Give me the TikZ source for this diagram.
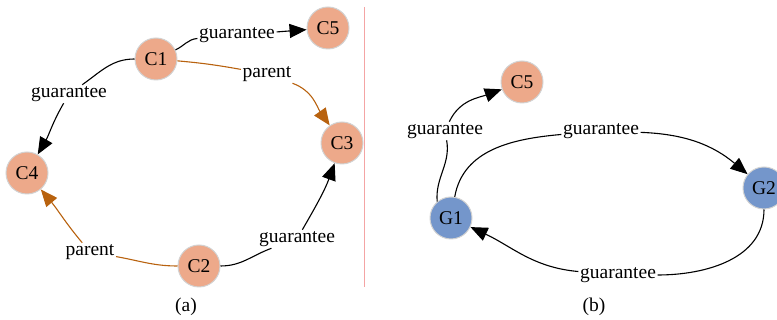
\documentclass[tikz,border=0pt]{standalone}
\usepackage{fontspec}
\setmainfont{Liberation Serif}
\usetikzlibrary{arrows.meta}
\definecolor{salmon}{HTML}{EDA98A}
\definecolor{bluegr}{HTML}{7496CB}
\definecolor{rimgray}{HTML}{D2D2D2}
\definecolor{parentc}{HTML}{B8620F}
\definecolor{sepred}{HTML}{F4A4A4}
\tikzset{
  cnode/.style={circle,fill=salmon,draw=rimgray,line width=1pt,minimum size=42pt,inner sep=0pt},
  gnode/.style={cnode,fill=bluegr},
  lbl/.style={inner sep=1.5pt},
  rel/.style={line width=1.1pt,-{Triangle[length=17pt,width=14pt]}},
  par/.style={rel,draw=parentc,-{Triangle[length=17pt,width=14pt,fill=parentc]}}
}
\begin{document}
\begin{tikzpicture}[x=1pt,y=1pt,font=\fontsize{19.5}{22}\selectfont]
    \useasboundingbox (0,0) rectangle (777,320);
    % (a)
    \node[cnode] (c1) at (156,261) {C1};
    \node[cnode] (c5a) at (328,292) {C5};
    \node[cnode] (c3) at (342,177) {C3};
    \node[cnode] (c4) at (27,147) {C4};
    \node[cnode] (c2) at (199,54) {C2};
    \node[lbl] (ga15) at (237,285) {guarantee};
    \node[lbl] (pa13) at (267,246) {parent};
    \node[lbl] (ga14) at (69,226) {guarantee};
    \node[lbl] (pa24) at (90,68) {parent};
    \node[lbl] (ga23) at (297,81) {guarantee};
    \draw[line width=1.1pt] (c1) to[out=25,in=185] (ga15);
    \draw[rel] (ga15) to (c5a);
    \draw[line width=1.1pt,draw=parentc] (c1) to[out=-5,in=170] (pa13);
    \draw[par] (pa13) to[out=-20,in=125] (c3);
    \draw[line width=1.1pt] (c1) to[out=180,in=35] (ga14);
    \draw[rel] (ga14) to[out=-120,in=60] (c4);
    \draw[line width=1.1pt,draw=parentc] (c2) to[out=180,in=-10] (pa24);
    \draw[par] (pa24) to[out=130,in=-50] (c4);
    \draw[line width=1.1pt] (c2) to[out=0,in=-160] (ga23);
    \draw[rel] (ga23) to[out=60,in=-110] (c3);
    \draw[sepred,line width=1pt] (364,313) -- (364,33);
    \node (capa) at (186,13) {(a)};
    % (b)
    \node[cnode] (c5b) at (522,238) {C5};
    \node[gnode] (g1) at (451,102) {G1};
    \node[gnode] (g2) at (764,132) {G2};
    \node[lbl] (gb15) at (445,189) {guarantee};
    \node[lbl] (gb12) at (601,189) {guarantee};
    \node[lbl] (gb21) at (618,45) {guarantee};
    \draw[line width=1.1pt] (g1.130) to[out=95,in=-80] (gb15);
    \draw[rel] (gb15) to[out=65,in=200] (c5b);
    \draw[line width=1.1pt] (g1) to[out=80,in=185] (gb12);
    \draw[rel] (gb12) to[out=-2,in=140] (g2);
    \draw[line width=1.1pt] (g2) to[out=-90,in=0] (gb21);
    \draw[rel] (gb21) to[out=175,in=-25] (g1);
    \node (capb) at (594,13) {(b)};
\end{tikzpicture}
\end{document}
